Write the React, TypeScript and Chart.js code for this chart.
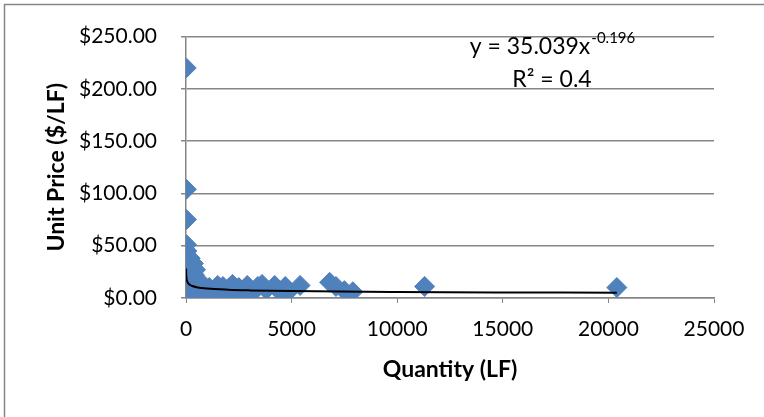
import React, { useEffect, useRef } from "react";
import { Chart, registerables } from "chart.js";

Chart.register(...registerables);

// Observed data (Quantity LF, Unit Price $/LF)
const quantities = [
  10, 15, 20, 25, 40, 30, 60, 80, 20, 100, 50, 150, 30, 200, 60, 120, 250, 10, 300, 80, 150, 40, 200, 350,
  400, 500, 300, 450, 200, 350,
  500, 600, 700, 850, 950, 1100, 1200, 1350, 1500, 1600, 1750, 1900, 2000, 2200, 2350, 2500, 2700, 2900,
  3000, 3200, 3400, 3600, 3800, 4200, 4400, 4700, 4800, 5400, 6800, 7100, 7500, 7900, 11300, 20400,
];
const unitPrices = [
  220, 104, 75, 51, 45, 40, 37, 34, 30, 28, 25, 23, 20, 18, 16, 15, 13, 12, 10, 9, 7, 5, 4, 3,
  22, 18, 30, 27, 38, 33,
  14, 9, 5, 12, 7, 10, 4, 8, 12, 6, 11, 5, 9, 13, 7, 10, 5, 12,
  8, 6, 11, 13, 8, 12, 7, 11, 5, 12, 15, 11, 7, 6, 11, 10,
];

// Power trendline y = 35.039x^-0.196, values read at sample quantities
const trendX = [3, 5, 10, 20, 30, 50, 100, 200, 300, 500, 1000, 2000, 3000, 5000, 10000, 15000, 20400];
const trendY = [28.25, 25.56, 22.31, 19.48, 17.99, 16.27, 14.21, 12.4, 11.46, 10.36, 9.05, 7.9, 7.29, 6.6, 5.76, 5.32, 5.01];

const xTicks = [0, 5000, 10000, 15000, 20000, 25000];
const yTicks = [0, 50, 100, 150, 200, 250];

const equationMain = "y = 35.039x";
const equationExp = "-0.196";
const rSquared = "R² = 0.4";

const GRID = "#868686";
const FONT = "Lato, 'Open Sans', sans-serif";

export default function App() {
  const ref = useRef<HTMLCanvasElement | null>(null);

  useEffect(() => {
    if (!ref.current) return;
    const borderPlugin = {
      id: "outerBorder",
      beforeDraw(chart: any) {
        const ctx = chart.ctx;
        ctx.save();
        ctx.fillStyle = "#fff";
        ctx.fillRect(0, 0, chart.width, chart.height);
        ctx.strokeStyle = GRID;
        ctx.lineWidth = 1.5;
        ctx.strokeRect(4.5, 4.5, 900, 900);
        ctx.restore();
      },
      afterDraw(chart: any) {
        const ctx = chart.ctx;
        ctx.save();
        ctx.fillStyle = "#000";
        ctx.textBaseline = "alphabetic";
        ctx.font = `23px ${FONT}`;
        const wMain = ctx.measureText(equationMain).width;
        ctx.font = `15px ${FONT}`;
        const wExp = ctx.measureText(equationExp).width;
        const cx = 552;
        const startX = cx - (wMain + wExp) / 2;
        ctx.font = `23px ${FONT}`;
        ctx.textAlign = "left";
        ctx.fillText(equationMain, startX, 54);
        ctx.font = `15px ${FONT}`;
        ctx.fillText(equationExp, startX + wMain + 1, 43);
        ctx.font = `23px ${FONT}`;
        ctx.textAlign = "center";
        ctx.fillText(rSquared, cx, 87);
        ctx.restore();
      },
    };

    const chart = new Chart(ref.current, {
      type: "scatter",
      data: {
        datasets: [
          {
            label: "Trend",
            type: "line",
            data: trendX.map((x, i) => ({ x, y: trendY[i] })),
            borderColor: "#000",
            borderWidth: 2,
            pointRadius: 0,
            fill: false,
            tension: 0.3,
            cubicInterpolationMode: "monotone",
            order: 0,
          },
          {
            label: "Unit Price",
            data: quantities.map((x, i) => ({ x, y: unitPrices[i] })),
            backgroundColor: "#4F81BD",
            borderColor: "#4F81BD",
            borderWidth: 1,
            pointStyle: "rectRot",
            pointRadius: 10,
            order: 1,
          },
        ],
      },
      options: {
        animation: false,
        responsive: false,
        layout: { padding: { left: 0, top: 33, right: 50, bottom: 0 } },
        plugins: { legend: { display: false }, tooltip: { enabled: false } },
        scales: {
          x: {
            type: "linear",
            min: 0,
            max: 25000,
            afterFit: (s: any) => {
              s.height = 119;
            },
            afterBuildTicks: (s: any) => {
              s.ticks = xTicks.map((v) => ({ value: v }));
            },
            ticks: {
              color: "#000",
              font: { family: FONT, size: 21 },
              padding: 14,
              maxRotation: 0,
              callback: (v: any) => String(v),
            },
            grid: { drawOnChartArea: false, drawTicks: true, tickLength: 5, color: GRID },
            border: { display: true, color: GRID, width: 1.5 },
            title: {
              display: true,
              text: "Quantity (LF)",
              color: "#000",
              font: { family: FONT, size: 23, weight: "bold" },
              padding: { top: 0, bottom: 34 },
            },
          },
          y: {
            type: "linear",
            min: 0,
            max: 250,
            afterFit: (s: any) => {
              s.width = 186;
            },
            afterBuildTicks: (s: any) => {
              s.ticks = yTicks.map((v) => ({ value: v }));
            },
            ticks: {
              color: "#000",
              font: { family: FONT, size: 21 },
              padding: 24,
              callback: (v: any) => "$" + Number(v).toFixed(2),
            },
            grid: { drawTicks: true, tickLength: 5, color: GRID, lineWidth: 1.5 },
            border: { display: true, color: GRID, width: 1.5 },
            title: {
              display: true,
              text: "Unit Price ($/LF)",
              color: "#000",
              font: { family: FONT, size: 23, weight: "bold" },
              padding: { top: 43, bottom: 0 },
            },
          },
        },
      },
      plugins: [borderPlugin],
    } as any);
    return () => chart.destroy();
  }, []);

  return (
    <div style={{ position: "fixed", left: 0, top: 0, width: 764, height: 417, background: "#fff" }}>
      <canvas ref={ref} width={764} height={417} style={{ display: "block", width: 764, height: 417 }} />
    </div>
  );
}
